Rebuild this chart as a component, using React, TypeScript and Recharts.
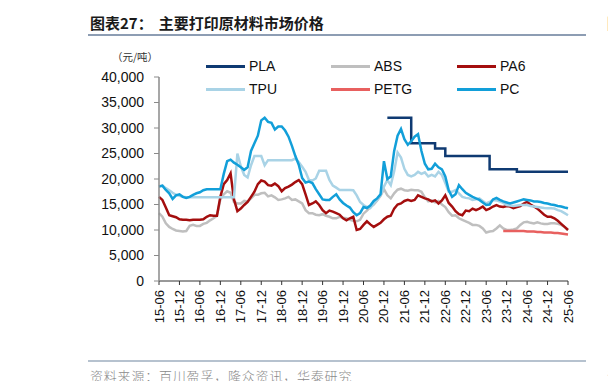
import React from 'react';
import { LineChart, Line, XAxis, YAxis } from 'recharts';

// monthly points, 15-06 .. 25-06
const START_YEAR = 2015;
const START_MONTH = 6;
const MONTH_COUNT = 121;

const months: string[] = Array.from({ length: MONTH_COUNT }, (_, i) => {
    const t = START_MONTH - 1 + i;
    const yy = (START_YEAR + Math.floor(t / 12)) % 100;
    const mm = (t % 12) + 1;
    return `${String(yy).padStart(2, '0')}-${String(mm).padStart(2, '0')}`;
});

const xTicks = [
    '15-06', '15-12', '16-06', '16-12', '17-06', '17-12', '18-06', '18-12', '19-06', '19-12',
    '20-06', '20-12', '21-06', '21-12', '22-06', '22-12', '23-06', '23-12', '24-06', '24-12', '25-06',
];
const yTicks = [0, 5000, 10000, 15000, 20000, 25000, 30000, 35000, 40000];

// 元/吨 (full range 15-06 .. 25-06)
const pc = [
    18500, 18700, 17850, 17200, 16100, 16800, 17000, 16500, 16300, 16500,
    16900, 17200, 17400, 17800, 18000, 18000, 18000, 18000, 18000, 21000,
    23500, 23800, 23200, 22800, 22300, 21800, 22300, 25500, 27000, 28500,
    31500, 32000, 31200, 31000, 29700, 30300, 30300, 29500, 28300, 26500,
    24500, 22800, 20200, 19300, 19500, 19200, 18000, 17000, 16000, 15900,
    15900, 16500, 17000, 16000, 15300, 14800, 14400, 13500, 12900, 13300,
    14500, 14300, 14800, 15700, 16200, 17000, 23500, 20000, 20500, 25500,
    28500, 29800, 27800, 26700, 27400, 28300, 28800, 25500, 23000, 21900,
    22000, 23000, 22300, 21900, 20500, 17800, 16500, 17000, 18800, 18000,
    17300, 16900, 16500, 16200, 15900, 15400, 14900, 15000, 16000, 16300,
    15900, 15600, 15400, 15200, 15400, 15600, 15800, 16000, 15900, 15800,
    15600, 15600, 15500, 15300, 15200, 15000, 14900, 14700, 14600, 14400,
    14250,
];

const tpu = [
    18600, 18700, 18200, 17800, 17300, 16900, 16700, 16500, 16400, 16400,
    16400, 16400, 16400, 16400, 16400, 16400, 16400, 16400, 16400, 16400,
    16400, 16400, 16400, 25000, 22500, 20800, 20300, 22700, 24500, 24500,
    24500, 22700, 23700, 23700, 23700, 23700, 23700, 23700, 23700, 23700,
    24000, 23300, 22400, 21400, 19800, 19700, 20100, 21600, 21600, 21600,
    19800, 18700, 18300, 17850, 17850, 17850, 17850, 17800, 16800, 15500,
    14900, 14500, 14300, 15200, 15900, 16900, 18500, 19800, 18800, 21500,
    25200, 24200, 22000, 20800, 20500, 20800, 21400, 21000, 21300, 20500,
    20800, 20500, 21400, 20800, 19200, 17500, 17500, 17850, 17200, 16500,
    16300, 16200, 15900, 16000, 16200, 15700, 15200, 15500, 15900, 15800,
    15600, 15300, 14900, 14800, 14700, 14800, 14900, 14900, 14900, 14700,
    14600, 14500, 14400, 14300, 14250, 14250, 14200, 13900, 13700, 13300,
    12900,
];

const pa6 = [
    16500, 15900, 14400, 12900, 12700, 12500, 12100, 12000, 12000, 11900,
    12000, 12000, 12000, 12100, 12600, 12900, 12800, 12800, 16500, 19000,
    19800, 21100, 16000, 13700, 14200, 14900, 15500, 16500, 17500, 19000,
    19700, 19500, 18800, 18700, 19100, 18600, 17600, 18200, 18500, 18900,
    19400, 19800, 19000, 17000, 14900, 15200, 15600, 14900, 13900, 13300,
    13800, 13600, 13300, 13000, 12300, 11900, 12300, 12600, 10000, 10200,
    11000, 11700, 11100, 10600, 11000, 11400, 12100, 12600, 12800, 14200,
    15000, 15200, 15700, 15900, 15700, 15900, 16800, 16500, 16200, 16000,
    15600, 15800, 15200, 15800, 16800, 15300, 14600, 13700, 13100, 12900,
    13800, 13700, 14200, 13900, 14200, 14600, 13900, 14200, 14600, 14900,
    14600, 14500, 14700, 14600, 14300, 14500, 14700, 15200, 15500, 15000,
    14600, 14200, 13600, 13000, 12600, 12600, 12300, 11800, 11200, 10600,
    10000,
];

const abs = [
    13300, 12600, 11300, 10600, 10200, 9900, 9800, 9700, 9800, 10800,
    11000, 10800, 10800, 11200, 11400, 11900, 12300, 12800, 16000, 17000,
    17600, 17300, 15500, 15200, 15200, 15700, 15600, 16200, 16900, 16900,
    17200, 17300, 16600, 16800, 16400, 15900, 16000, 16200, 16500, 15900,
    16000, 15600, 15200, 13900, 13300, 13300, 13000, 12900, 13100, 12800,
    12600, 12300, 12300, 12600, 12400, 12300, 12000, 11800, 11700, 12000,
    13200, 13800, 14500, 15000, 15800, 16700, 18000, 16800, 16200, 17200,
    17900, 18100, 17800, 17700, 17900, 17800, 17800, 17500, 16400, 15600,
    15800, 15400, 15700, 15000, 14500, 13500, 12800, 12900, 12300, 12000,
    11700, 11400, 11000, 11000, 10800, 10300, 9500, 9700, 9800, 10300,
    10900, 10300, 10000, 10000, 10100, 10300, 11000, 11500, 11600, 11400,
    11300, 11500, 11300, 11200, 11200, 11300, 11300, 11200, 11000, 10600,
    10000,
];

// PLA starts 21-01, PETG starts 23-11
const plaStart = '21-01';
const pla = [
    32000, 32000, 32000, 32000, 32000, 32000, 32000, 27000, 27000, 27000,
    27000, 27000, 27000, 27000, 26000, 26000, 26000, 24500, 24500, 24500,
    24500, 24500, 24500, 24500, 24500, 24500, 24500, 24500, 24500, 24500,
    21900, 21900, 21900, 21900, 21900, 21900, 21900, 21900, 21400, 21400,
    21400, 21400, 21400, 21400, 21400, 21400, 21400, 21400, 21400, 21400,
    21400, 21400, 21400, 21400,
];
const petgStart = '23-11';
const petg = [
    9800, 9800, 9800, 9800, 9800, 9800, 9800, 9700, 9700, 9700,
    9600, 9600, 9500, 9500, 9500, 9400, 9400, 9300, 9200, 9100,
];

const at = (arr: number[], start: string, i: number) => {
    const k = i - months.indexOf(start);
    return k >= 0 && k < arr.length ? arr[k] : null;
};

const data = months.map((month, i) => ({
    month,
    PLA: at(pla, plaStart, i),
    ABS: abs[i],
    PA6: pa6[i],
    TPU: tpu[i],
    PETG: at(petg, petgStart, i),
    PC: pc[i],
}));

const series = [
    { key: 'PLA', color: '#0f3a72' },
    { key: 'ABS', color: '#bfbfbf' },
    { key: 'PA6', color: '#a40e0e' },
    { key: 'TPU', color: '#a9d3e6' },
    { key: 'PETG', color: '#e8605f' },
    { key: 'PC', color: '#129fd9' },
];

const FONT = '"Liberation Sans", Arial, sans-serif';
const CJK = '"Noto Sans CJK SC", sans-serif';

const RotatedTick = (props: any) => {
    const { x, y, payload } = props;
    return (
        <text
            x={x}
            y={y}
            transform={`rotate(-90 ${x} ${y})`}
            textAnchor="end"
            dy="0.35em"
            fontSize={13}
            fontFamily={FONT}
            fill="#111"
        >
            {payload.value}
        </text>
    );
};

// legend sits in 3 columns x 2 rows above the plot
const legendCols = [206, 331, 457];
const legendRows = [66, 89];

const App: React.FC = () => (
    <div style={{ position: 'relative', width: 616, height: 389, margin: -8, overflow: 'hidden', background: '#fff' }}>
        <div style={{ position: 'absolute', left: 90, top: 15, lineHeight: '16px', fontFamily: CJK, fontWeight: 700, fontSize: 15, color: '#1a1a1a', whiteSpace: 'nowrap' }}>
            图表27：<span style={{ marginLeft: 6 }}>主要打印原材料市场价格</span>
        </div>
        <div style={{ position: 'absolute', left: 607, top: 15, lineHeight: '16px', fontFamily: CJK, fontWeight: 700, fontSize: 15, color: '#1a1a1a' }}>图</div>
        <div style={{ position: 'absolute', left: 88, top: 34, width: 498, height: 1.5, background: '#8d9db3' }} />
        <div style={{ position: 'absolute', left: 613, top: 34, width: 10, height: 1.5, background: '#8d9db3' }} />

        <div style={{ position: 'absolute', left: 112, top: 51, lineHeight: '11px', fontFamily: CJK, fontSize: 10.5, color: '#333', whiteSpace: 'nowrap' }}>
            （元/吨）
        </div>

        <div style={{ position: 'absolute', left: 0, top: 0 }}>
            <LineChart width={616} height={389} data={data} margin={{ top: 77, right: 48, bottom: 0, left: 0 }}>
                <XAxis
                    dataKey="month"
                    ticks={xTicks}
                    interval={0}
                    height={108}
                    tick={<RotatedTick />}
                    tickSize={4}
                    tickMargin={5}
                    axisLine={{ stroke: '#333', strokeWidth: 1 }}
                    tickLine={{ stroke: '#333' }}
                />
                <YAxis
                    width={159}
                    domain={[0, 40000]}
                    ticks={yTicks}
                    interval={0}
                    tickFormatter={(v: number) => v.toLocaleString('en-US')}
                    tick={{ fontSize: 14, fontFamily: FONT, fill: '#111' }}
                    tickSize={5}
                    tickMargin={10}
                    axisLine={{ stroke: '#8a8a8a', strokeWidth: 1.5 }}
                    tickLine={{ stroke: '#8a8a8a' }}
                />
                {series.map((s) => (
                    <Line
                        key={s.key}
                        dataKey={s.key}
                        type={s.key === 'PLA' ? 'stepAfter' : 'linear'}
                        stroke={s.color}
                        strokeWidth={2.5}
                        dot={false}
                        connectNulls={false}
                        isAnimationActive={false}
                    />
                ))}
            </LineChart>
        </div>

        {series.map((s, i) => {
            const left = legendCols[i % 3];
            const top = legendRows[Math.floor(i / 3)];
            return (
                <div key={s.key} style={{ position: 'absolute', left, top: top - 9, height: 18, display: 'flex', alignItems: 'center' }}>
                    <div style={{ width: 39, height: 3, background: s.color }} />
                    <span style={{ marginLeft: 4, fontFamily: FONT, fontSize: 14, color: '#111' }}>{s.key}</span>
                </div>
            );
        })}

        <div style={{ position: 'absolute', left: 88, top: 360, width: 498, height: 1.5, background: '#b6c2cf' }} />
        <div style={{ position: 'absolute', left: 613, top: 360, width: 10, height: 1.5, background: '#b6c2cf' }} />
        <div style={{ position: 'absolute', left: 90, top: 369, lineHeight: '14px', fontFamily: CJK, fontWeight: 300, fontSize: 13, letterSpacing: 0.8, color: '#8a8a8a', whiteSpace: 'nowrap' }}>
            资料来源：百川盈孚，隆众资讯，华泰研究
        </div>
        <div style={{ position: 'absolute', left: 607, top: 369, lineHeight: '14px', fontFamily: CJK, fontWeight: 300, fontSize: 13, color: '#8a8a8a' }}>资</div>
    </div>
);

export default App;
